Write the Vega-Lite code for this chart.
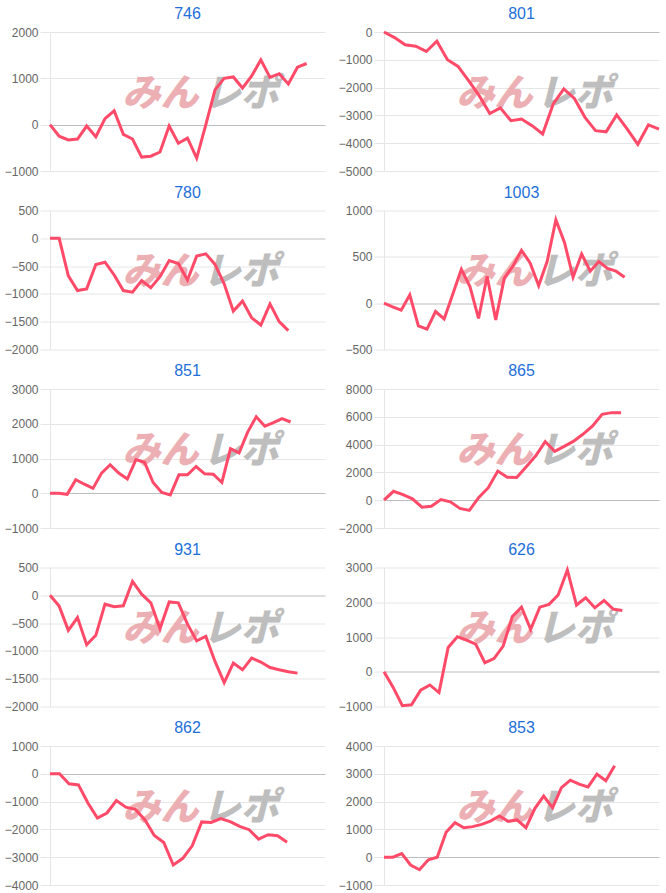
{
  "$schema": "https://vega.github.io/schema/vega-lite/v6.json",
  "padding": {"left": 4, "top": 6, "right": 2, "bottom": 0},
  "background": "white",
  "datasets": {
    "d746": [{"i":0,"v":0},{"i":1,"v":-250},{"i":2,"v":-330},{"i":3,"v":-310},{"i":4,"v":-30},{"i":5,"v":-260},{"i":6,"v":130},{"i":7,"v":300},{"i":8,"v":-210},{"i":9,"v":-310},{"i":10,"v":-700},{"i":11,"v":-680},{"i":12,"v":-590},{"i":13,"v":-30},{"i":14,"v":-400},{"i":15,"v":-290},{"i":16,"v":-720},{"i":17,"v":0},{"i":18,"v":750},{"i":19,"v":1000},{"i":20,"v":1030},{"i":21,"v":790},{"i":22,"v":1050},{"i":23,"v":1400},{"i":24,"v":1020},{"i":25,"v":1100},{"i":26,"v":880},{"i":27,"v":1240},{"i":28,"v":1320}],
    "d801": [{"i":0,"v":0},{"i":1,"v":-200},{"i":2,"v":-460},{"i":3,"v":-510},{"i":4,"v":-700},{"i":5,"v":-330},{"i":6,"v":-1000},{"i":7,"v":-1240},{"i":8,"v":-1750},{"i":9,"v":-2290},{"i":10,"v":-2930},{"i":11,"v":-2730},{"i":12,"v":-3190},{"i":13,"v":-3130},{"i":14,"v":-3370},{"i":15,"v":-3670},{"i":16,"v":-2590},{"i":17,"v":-2050},{"i":18,"v":-2390},{"i":19,"v":-3070},{"i":20,"v":-3550},{"i":21,"v":-3590},{"i":22,"v":-2980},{"i":23,"v":-3490},{"i":24,"v":-4040},{"i":25,"v":-3340},{"i":26,"v":-3490}],
    "d780": [{"i":0,"v":0},{"i":1,"v":0},{"i":2,"v":-675},{"i":3,"v":-940},{"i":4,"v":-910},{"i":5,"v":-470},{"i":6,"v":-430},{"i":7,"v":-660},{"i":8,"v":-940},{"i":9,"v":-970},{"i":10,"v":-760},{"i":11,"v":-890},{"i":12,"v":-690},{"i":13,"v":-400},{"i":14,"v":-455},{"i":15,"v":-750},{"i":16,"v":-320},{"i":17,"v":-280},{"i":18,"v":-470},{"i":19,"v":-820},{"i":20,"v":-1310},{"i":21,"v":-1130},{"i":22,"v":-1430},{"i":23,"v":-1560},{"i":24,"v":-1180},{"i":25,"v":-1500},{"i":26,"v":-1660}],
    "d1003": [{"i":0,"v":0},{"i":1,"v":-40},{"i":2,"v":-75},{"i":3,"v":90},{"i":4,"v":-245},{"i":5,"v":-280},{"i":6,"v":-90},{"i":7,"v":-170},{"i":8,"v":95},{"i":9,"v":365},{"i":10,"v":180},{"i":11,"v":-165},{"i":12,"v":290},{"i":13,"v":-180},{"i":14,"v":270},{"i":15,"v":400},{"i":16,"v":570},{"i":17,"v":435},{"i":18,"v":190},{"i":19,"v":455},{"i":20,"v":900},{"i":21,"v":655},{"i":22,"v":280},{"i":23,"v":530},{"i":24,"v":345},{"i":25,"v":450},{"i":26,"v":375},{"i":27,"v":345},{"i":28,"v":280}],
    "d851": [{"i":0,"v":0},{"i":1,"v":0},{"i":2,"v":-30},{"i":3,"v":390},{"i":4,"v":260},{"i":5,"v":140},{"i":6,"v":580},{"i":7,"v":820},{"i":8,"v":580},{"i":9,"v":410},{"i":10,"v":970},{"i":11,"v":890},{"i":12,"v":310},{"i":13,"v":20},{"i":14,"v":-50},{"i":15,"v":530},{"i":16,"v":530},{"i":17,"v":770},{"i":18,"v":560},{"i":19,"v":550},{"i":20,"v":310},{"i":21,"v":1280},{"i":22,"v":1160},{"i":23,"v":1760},{"i":24,"v":2200},{"i":25,"v":1930},{"i":26,"v":2030},{"i":27,"v":2150},{"i":28,"v":2050}],
    "d865": [{"i":0,"v":0},{"i":1,"v":640},{"i":2,"v":400},{"i":3,"v":100},{"i":4,"v":-500},{"i":5,"v":-430},{"i":6,"v":50},{"i":7,"v":-120},{"i":8,"v":-590},{"i":9,"v":-730},{"i":10,"v":200},{"i":11,"v":900},{"i":12,"v":2100},{"i":13,"v":1650},{"i":14,"v":1630},{"i":15,"v":2400},{"i":16,"v":3200},{"i":17,"v":4220},{"i":18,"v":3510},{"i":19,"v":3870},{"i":20,"v":4250},{"i":21,"v":4760},{"i":22,"v":5350},{"i":23,"v":6180},{"i":24,"v":6300},{"i":25,"v":6300}],
    "d931": [{"i":0,"v":0},{"i":1,"v":-195},{"i":2,"v":-630},{"i":3,"v":-400},{"i":4,"v":-890},{"i":5,"v":-720},{"i":6,"v":-160},{"i":7,"v":-205},{"i":8,"v":-190},{"i":9,"v":250},{"i":10,"v":20},{"i":11,"v":-135},{"i":12,"v":-600},{"i":13,"v":-120},{"i":14,"v":-135},{"i":15,"v":-520},{"i":16,"v":-820},{"i":17,"v":-740},{"i":18,"v":-1190},{"i":19,"v":-1570},{"i":20,"v":-1220},{"i":21,"v":-1340},{"i":22,"v":-1130},{"i":23,"v":-1200},{"i":24,"v":-1300},{"i":25,"v":-1340},{"i":26,"v":-1375},{"i":27,"v":-1400}],
    "d626": [{"i":0,"v":0},{"i":1,"v":-450},{"i":2,"v":-975},{"i":3,"v":-950},{"i":4,"v":-530},{"i":5,"v":-380},{"i":6,"v":-600},{"i":7,"v":700},{"i":8,"v":1010},{"i":9,"v":910},{"i":10,"v":795},{"i":11,"v":260},{"i":12,"v":380},{"i":13,"v":740},{"i":14,"v":1590},{"i":15,"v":1860},{"i":16,"v":1220},{"i":17,"v":1860},{"i":18,"v":1940},{"i":19,"v":2210},{"i":20,"v":2930},{"i":21,"v":1920},{"i":22,"v":2130},{"i":23,"v":1840},{"i":24,"v":2050},{"i":25,"v":1800},{"i":26,"v":1760}],
    "d862": [{"i":0,"v":0},{"i":1,"v":0},{"i":2,"v":-360},{"i":3,"v":-400},{"i":4,"v":-1050},{"i":5,"v":-1590},{"i":6,"v":-1410},{"i":7,"v":-960},{"i":8,"v":-1200},{"i":9,"v":-1280},{"i":10,"v":-1650},{"i":11,"v":-2220},{"i":12,"v":-2470},{"i":13,"v":-3280},{"i":14,"v":-3040},{"i":15,"v":-2590},{"i":16,"v":-1730},{"i":17,"v":-1750},{"i":18,"v":-1610},{"i":19,"v":-1720},{"i":20,"v":-1890},{"i":21,"v":-2010},{"i":22,"v":-2350},{"i":23,"v":-2190},{"i":24,"v":-2230},{"i":25,"v":-2460}],
    "d853": [{"i":0,"v":0},{"i":1,"v":0},{"i":2,"v":130},{"i":3,"v":-280},{"i":4,"v":-450},{"i":5,"v":-90},{"i":6,"v":0},{"i":7,"v":900},{"i":8,"v":1240},{"i":9,"v":1060},{"i":10,"v":1100},{"i":11,"v":1180},{"i":12,"v":1300},{"i":13,"v":1480},{"i":14,"v":1290},{"i":15,"v":1340},{"i":16,"v":1060},{"i":17,"v":1750},{"i":18,"v":2200},{"i":19,"v":1780},{"i":20,"v":2500},{"i":21,"v":2770},{"i":22,"v":2630},{"i":23,"v":2530},{"i":24,"v":2990},{"i":25,"v":2750},{"i":26,"v":3290}]
  },
  "columns": 2,
  "spacing": {"row": 7.5, "column": 13},
  "concat": [
    {"title": "746", "width": 275, "height": 139, "resolve": {"scale": {"x": "independent", "y": "independent"}},
     "layer": [
      {"data": {"values": [{}]}, "mark": {"type": "text", "text": "みん", "align": "right", "baseline": "middle", "font": "Noto Sans CJK JP", "fontSize": 38, "fontWeight": 900, "fontStyle": "italic", "color": "#e9a3a7", "opacity": 0.85}, "encoding": {"x": {"datum": 0.54, "type": "quantitative", "scale": {"domain": [0, 1]}, "axis": null}, "y": {"datum": 0.55, "type": "quantitative", "scale": {"domain": [0, 1]}, "axis": null}}},
      {"data": {"values": [{}]}, "mark": {"type": "text", "text": "レポ", "align": "left", "baseline": "middle", "font": "Noto Sans CJK JP", "fontSize": 38, "fontWeight": 900, "fontStyle": "italic", "color": "#b3b3b3", "opacity": 0.85}, "encoding": {"x": {"datum": 0.555, "type": "quantitative", "scale": {"domain": [0, 1]}, "axis": null}, "y": {"datum": 0.55, "type": "quantitative", "scale": {"domain": [0, 1]}, "axis": null}}},
      {"data": {"name": "d746"}, "mark": {"type": "line", "color": "#ff4b69", "strokeWidth": 3}, "encoding": {"x": {"field": "i", "type": "quantitative", "scale": {"domain": [0, 30], "nice": false}, "axis": null}, "y": {"field": "v", "type": "quantitative", "scale": {"domain": [-1000, 2000], "nice": false}, "axis": {"values": [-1000, 0, 1000, 2000], "grid": true, "title": null, "format": "d", "gridColor": {"condition": {"test": "datum.value === 0", "value": "#bdbdbd"}, "value": "#e6e6e6"}}}}}
     ]},
    {"title": "801", "width": 275, "height": 139, "resolve": {"scale": {"x": "independent", "y": "independent"}},
     "layer": [
      {"data": {"values": [{}]}, "mark": {"type": "text", "text": "みん", "align": "right", "baseline": "middle", "font": "Noto Sans CJK JP", "fontSize": 38, "fontWeight": 900, "fontStyle": "italic", "color": "#e9a3a7", "opacity": 0.85}, "encoding": {"x": {"datum": 0.54, "type": "quantitative", "scale": {"domain": [0, 1]}, "axis": null}, "y": {"datum": 0.55, "type": "quantitative", "scale": {"domain": [0, 1]}, "axis": null}}},
      {"data": {"values": [{}]}, "mark": {"type": "text", "text": "レポ", "align": "left", "baseline": "middle", "font": "Noto Sans CJK JP", "fontSize": 38, "fontWeight": 900, "fontStyle": "italic", "color": "#b3b3b3", "opacity": 0.85}, "encoding": {"x": {"datum": 0.555, "type": "quantitative", "scale": {"domain": [0, 1]}, "axis": null}, "y": {"datum": 0.55, "type": "quantitative", "scale": {"domain": [0, 1]}, "axis": null}}},
      {"data": {"name": "d801"}, "mark": {"type": "line", "color": "#ff4b69", "strokeWidth": 3}, "encoding": {"x": {"field": "i", "type": "quantitative", "scale": {"domain": [0, 26], "nice": false}, "axis": null}, "y": {"field": "v", "type": "quantitative", "scale": {"domain": [-5000, 0], "nice": false}, "axis": {"values": [-5000, -4000, -3000, -2000, -1000, 0], "grid": true, "title": null, "format": "d", "gridColor": {"condition": {"test": "datum.value === 0", "value": "#bdbdbd"}, "value": "#e6e6e6"}}}}}
     ]},
    {"title": "780", "width": 275, "height": 139, "resolve": {"scale": {"x": "independent", "y": "independent"}},
     "layer": [
      {"data": {"values": [{}]}, "mark": {"type": "text", "text": "みん", "align": "right", "baseline": "middle", "font": "Noto Sans CJK JP", "fontSize": 38, "fontWeight": 900, "fontStyle": "italic", "color": "#e9a3a7", "opacity": 0.85}, "encoding": {"x": {"datum": 0.54, "type": "quantitative", "scale": {"domain": [0, 1]}, "axis": null}, "y": {"datum": 0.55, "type": "quantitative", "scale": {"domain": [0, 1]}, "axis": null}}},
      {"data": {"values": [{}]}, "mark": {"type": "text", "text": "レポ", "align": "left", "baseline": "middle", "font": "Noto Sans CJK JP", "fontSize": 38, "fontWeight": 900, "fontStyle": "italic", "color": "#b3b3b3", "opacity": 0.85}, "encoding": {"x": {"datum": 0.555, "type": "quantitative", "scale": {"domain": [0, 1]}, "axis": null}, "y": {"datum": 0.55, "type": "quantitative", "scale": {"domain": [0, 1]}, "axis": null}}},
      {"data": {"name": "d780"}, "mark": {"type": "line", "color": "#ff4b69", "strokeWidth": 3}, "encoding": {"x": {"field": "i", "type": "quantitative", "scale": {"domain": [0, 30], "nice": false}, "axis": null}, "y": {"field": "v", "type": "quantitative", "scale": {"domain": [-2000, 500], "nice": false}, "axis": {"values": [-2000, -1500, -1000, -500, 0, 500], "grid": true, "title": null, "format": "d", "gridColor": {"condition": {"test": "datum.value === 0", "value": "#bdbdbd"}, "value": "#e6e6e6"}}}}}
     ]},
    {"title": "1003", "width": 275, "height": 139, "resolve": {"scale": {"x": "independent", "y": "independent"}},
     "layer": [
      {"data": {"values": [{}]}, "mark": {"type": "text", "text": "みん", "align": "right", "baseline": "middle", "font": "Noto Sans CJK JP", "fontSize": 38, "fontWeight": 900, "fontStyle": "italic", "color": "#e9a3a7", "opacity": 0.85}, "encoding": {"x": {"datum": 0.54, "type": "quantitative", "scale": {"domain": [0, 1]}, "axis": null}, "y": {"datum": 0.55, "type": "quantitative", "scale": {"domain": [0, 1]}, "axis": null}}},
      {"data": {"values": [{}]}, "mark": {"type": "text", "text": "レポ", "align": "left", "baseline": "middle", "font": "Noto Sans CJK JP", "fontSize": 38, "fontWeight": 900, "fontStyle": "italic", "color": "#b3b3b3", "opacity": 0.85}, "encoding": {"x": {"datum": 0.555, "type": "quantitative", "scale": {"domain": [0, 1]}, "axis": null}, "y": {"datum": 0.55, "type": "quantitative", "scale": {"domain": [0, 1]}, "axis": null}}},
      {"data": {"name": "d1003"}, "mark": {"type": "line", "color": "#ff4b69", "strokeWidth": 3}, "encoding": {"x": {"field": "i", "type": "quantitative", "scale": {"domain": [0, 32], "nice": false}, "axis": null}, "y": {"field": "v", "type": "quantitative", "scale": {"domain": [-500, 1000], "nice": false}, "axis": {"values": [-500, 0, 500, 1000], "grid": true, "title": null, "format": "d", "gridColor": {"condition": {"test": "datum.value === 0", "value": "#bdbdbd"}, "value": "#e6e6e6"}}}}}
     ]},
    {"title": "851", "width": 275, "height": 139, "resolve": {"scale": {"x": "independent", "y": "independent"}},
     "layer": [
      {"data": {"values": [{}]}, "mark": {"type": "text", "text": "みん", "align": "right", "baseline": "middle", "font": "Noto Sans CJK JP", "fontSize": 38, "fontWeight": 900, "fontStyle": "italic", "color": "#e9a3a7", "opacity": 0.85}, "encoding": {"x": {"datum": 0.54, "type": "quantitative", "scale": {"domain": [0, 1]}, "axis": null}, "y": {"datum": 0.55, "type": "quantitative", "scale": {"domain": [0, 1]}, "axis": null}}},
      {"data": {"values": [{}]}, "mark": {"type": "text", "text": "レポ", "align": "left", "baseline": "middle", "font": "Noto Sans CJK JP", "fontSize": 38, "fontWeight": 900, "fontStyle": "italic", "color": "#b3b3b3", "opacity": 0.85}, "encoding": {"x": {"datum": 0.555, "type": "quantitative", "scale": {"domain": [0, 1]}, "axis": null}, "y": {"datum": 0.55, "type": "quantitative", "scale": {"domain": [0, 1]}, "axis": null}}},
      {"data": {"name": "d851"}, "mark": {"type": "line", "color": "#ff4b69", "strokeWidth": 3}, "encoding": {"x": {"field": "i", "type": "quantitative", "scale": {"domain": [0, 32], "nice": false}, "axis": null}, "y": {"field": "v", "type": "quantitative", "scale": {"domain": [-1000, 3000], "nice": false}, "axis": {"values": [-1000, 0, 1000, 2000, 3000], "grid": true, "title": null, "format": "d", "gridColor": {"condition": {"test": "datum.value === 0", "value": "#bdbdbd"}, "value": "#e6e6e6"}}}}}
     ]},
    {"title": "865", "width": 275, "height": 139, "resolve": {"scale": {"x": "independent", "y": "independent"}},
     "layer": [
      {"data": {"values": [{}]}, "mark": {"type": "text", "text": "みん", "align": "right", "baseline": "middle", "font": "Noto Sans CJK JP", "fontSize": 38, "fontWeight": 900, "fontStyle": "italic", "color": "#e9a3a7", "opacity": 0.85}, "encoding": {"x": {"datum": 0.54, "type": "quantitative", "scale": {"domain": [0, 1]}, "axis": null}, "y": {"datum": 0.55, "type": "quantitative", "scale": {"domain": [0, 1]}, "axis": null}}},
      {"data": {"values": [{}]}, "mark": {"type": "text", "text": "レポ", "align": "left", "baseline": "middle", "font": "Noto Sans CJK JP", "fontSize": 38, "fontWeight": 900, "fontStyle": "italic", "color": "#b3b3b3", "opacity": 0.85}, "encoding": {"x": {"datum": 0.555, "type": "quantitative", "scale": {"domain": [0, 1]}, "axis": null}, "y": {"datum": 0.55, "type": "quantitative", "scale": {"domain": [0, 1]}, "axis": null}}},
      {"data": {"name": "d865"}, "mark": {"type": "line", "color": "#ff4b69", "strokeWidth": 3}, "encoding": {"x": {"field": "i", "type": "quantitative", "scale": {"domain": [0, 29], "nice": false}, "axis": null}, "y": {"field": "v", "type": "quantitative", "scale": {"domain": [-2000, 8000], "nice": false}, "axis": {"values": [-2000, 0, 2000, 4000, 6000, 8000], "grid": true, "title": null, "format": "d", "gridColor": {"condition": {"test": "datum.value === 0", "value": "#bdbdbd"}, "value": "#e6e6e6"}}}}}
     ]},
    {"title": "931", "width": 275, "height": 139, "resolve": {"scale": {"x": "independent", "y": "independent"}},
     "layer": [
      {"data": {"values": [{}]}, "mark": {"type": "text", "text": "みん", "align": "right", "baseline": "middle", "font": "Noto Sans CJK JP", "fontSize": 38, "fontWeight": 900, "fontStyle": "italic", "color": "#e9a3a7", "opacity": 0.85}, "encoding": {"x": {"datum": 0.54, "type": "quantitative", "scale": {"domain": [0, 1]}, "axis": null}, "y": {"datum": 0.55, "type": "quantitative", "scale": {"domain": [0, 1]}, "axis": null}}},
      {"data": {"values": [{}]}, "mark": {"type": "text", "text": "レポ", "align": "left", "baseline": "middle", "font": "Noto Sans CJK JP", "fontSize": 38, "fontWeight": 900, "fontStyle": "italic", "color": "#b3b3b3", "opacity": 0.85}, "encoding": {"x": {"datum": 0.555, "type": "quantitative", "scale": {"domain": [0, 1]}, "axis": null}, "y": {"datum": 0.55, "type": "quantitative", "scale": {"domain": [0, 1]}, "axis": null}}},
      {"data": {"name": "d931"}, "mark": {"type": "line", "color": "#ff4b69", "strokeWidth": 3}, "encoding": {"x": {"field": "i", "type": "quantitative", "scale": {"domain": [0, 30], "nice": false}, "axis": null}, "y": {"field": "v", "type": "quantitative", "scale": {"domain": [-2000, 500], "nice": false}, "axis": {"values": [-2000, -1500, -1000, -500, 0, 500], "grid": true, "title": null, "format": "d", "gridColor": {"condition": {"test": "datum.value === 0", "value": "#bdbdbd"}, "value": "#e6e6e6"}}}}}
     ]},
    {"title": "626", "width": 275, "height": 139, "resolve": {"scale": {"x": "independent", "y": "independent"}},
     "layer": [
      {"data": {"values": [{}]}, "mark": {"type": "text", "text": "みん", "align": "right", "baseline": "middle", "font": "Noto Sans CJK JP", "fontSize": 38, "fontWeight": 900, "fontStyle": "italic", "color": "#e9a3a7", "opacity": 0.85}, "encoding": {"x": {"datum": 0.54, "type": "quantitative", "scale": {"domain": [0, 1]}, "axis": null}, "y": {"datum": 0.55, "type": "quantitative", "scale": {"domain": [0, 1]}, "axis": null}}},
      {"data": {"values": [{}]}, "mark": {"type": "text", "text": "レポ", "align": "left", "baseline": "middle", "font": "Noto Sans CJK JP", "fontSize": 38, "fontWeight": 900, "fontStyle": "italic", "color": "#b3b3b3", "opacity": 0.85}, "encoding": {"x": {"datum": 0.555, "type": "quantitative", "scale": {"domain": [0, 1]}, "axis": null}, "y": {"datum": 0.55, "type": "quantitative", "scale": {"domain": [0, 1]}, "axis": null}}},
      {"data": {"name": "d626"}, "mark": {"type": "line", "color": "#ff4b69", "strokeWidth": 3}, "encoding": {"x": {"field": "i", "type": "quantitative", "scale": {"domain": [0, 30], "nice": false}, "axis": null}, "y": {"field": "v", "type": "quantitative", "scale": {"domain": [-1000, 3000], "nice": false}, "axis": {"values": [-1000, 0, 1000, 2000, 3000], "grid": true, "title": null, "format": "d", "gridColor": {"condition": {"test": "datum.value === 0", "value": "#bdbdbd"}, "value": "#e6e6e6"}}}}}
     ]},
    {"title": "862", "width": 275, "height": 139, "resolve": {"scale": {"x": "independent", "y": "independent"}},
     "layer": [
      {"data": {"values": [{}]}, "mark": {"type": "text", "text": "みん", "align": "right", "baseline": "middle", "font": "Noto Sans CJK JP", "fontSize": 38, "fontWeight": 900, "fontStyle": "italic", "color": "#e9a3a7", "opacity": 0.85}, "encoding": {"x": {"datum": 0.54, "type": "quantitative", "scale": {"domain": [0, 1]}, "axis": null}, "y": {"datum": 0.55, "type": "quantitative", "scale": {"domain": [0, 1]}, "axis": null}}},
      {"data": {"values": [{}]}, "mark": {"type": "text", "text": "レポ", "align": "left", "baseline": "middle", "font": "Noto Sans CJK JP", "fontSize": 38, "fontWeight": 900, "fontStyle": "italic", "color": "#b3b3b3", "opacity": 0.85}, "encoding": {"x": {"datum": 0.555, "type": "quantitative", "scale": {"domain": [0, 1]}, "axis": null}, "y": {"datum": 0.55, "type": "quantitative", "scale": {"domain": [0, 1]}, "axis": null}}},
      {"data": {"name": "d862"}, "mark": {"type": "line", "color": "#ff4b69", "strokeWidth": 3}, "encoding": {"x": {"field": "i", "type": "quantitative", "scale": {"domain": [0, 29], "nice": false}, "axis": null}, "y": {"field": "v", "type": "quantitative", "scale": {"domain": [-4000, 1000], "nice": false}, "axis": {"values": [-4000, -3000, -2000, -1000, 0, 1000], "grid": true, "title": null, "format": "d", "gridColor": {"condition": {"test": "datum.value === 0", "value": "#bdbdbd"}, "value": "#e6e6e6"}}}}}
     ]},
    {"title": "853", "width": 275, "height": 139, "resolve": {"scale": {"x": "independent", "y": "independent"}},
     "layer": [
      {"data": {"values": [{}]}, "mark": {"type": "text", "text": "みん", "align": "right", "baseline": "middle", "font": "Noto Sans CJK JP", "fontSize": 38, "fontWeight": 900, "fontStyle": "italic", "color": "#e9a3a7", "opacity": 0.85}, "encoding": {"x": {"datum": 0.54, "type": "quantitative", "scale": {"domain": [0, 1]}, "axis": null}, "y": {"datum": 0.55, "type": "quantitative", "scale": {"domain": [0, 1]}, "axis": null}}},
      {"data": {"values": [{}]}, "mark": {"type": "text", "text": "レポ", "align": "left", "baseline": "middle", "font": "Noto Sans CJK JP", "fontSize": 38, "fontWeight": 900, "fontStyle": "italic", "color": "#b3b3b3", "opacity": 0.85}, "encoding": {"x": {"datum": 0.555, "type": "quantitative", "scale": {"domain": [0, 1]}, "axis": null}, "y": {"datum": 0.55, "type": "quantitative", "scale": {"domain": [0, 1]}, "axis": null}}},
      {"data": {"name": "d853"}, "mark": {"type": "line", "color": "#ff4b69", "strokeWidth": 3}, "encoding": {"x": {"field": "i", "type": "quantitative", "scale": {"domain": [0, 31], "nice": false}, "axis": null}, "y": {"field": "v", "type": "quantitative", "scale": {"domain": [-1000, 4000], "nice": false}, "axis": {"values": [-1000, 0, 1000, 2000, 3000, 4000], "grid": true, "title": null, "format": "d", "gridColor": {"condition": {"test": "datum.value === 0", "value": "#bdbdbd"}, "value": "#e6e6e6"}}}}}
     ]}
  ],
  "config": {
    "font": "Liberation Sans",
    "view": {"stroke": null},
    "axis": {"labelFont": "Liberation Sans", "labelFontSize": 12, "labelColor": "#666666", "tickColor": "#e6e6e6", "tickSize": 10, "labelPadding": 2, "domainColor": "#e6e6e6", "labelOverlap": false, "labelFlush": false},
    "title": {"font": "Liberation Sans", "fontSize": 16, "fontWeight": "normal", "color": "#1e6fd9", "offset": 4}
  }
}
